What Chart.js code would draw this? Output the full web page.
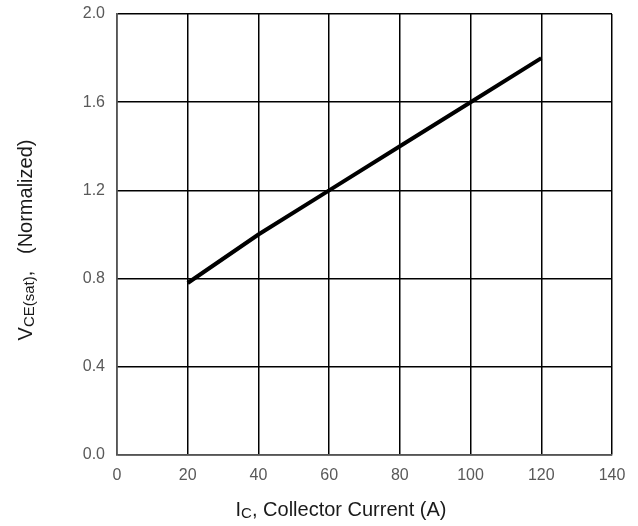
<!DOCTYPE html>
<html>
<head>
<meta charset="utf-8">
<script src="https://cdn.jsdelivr.net/npm/chart.js@4.4.1/dist/chart.umd.min.js"></script>
<style>
    html, body { margin: 0; padding: 0; background: #fff; }
    #wrap { width: 638px; height: 526px; }
</style>
</head>
<body>
<div id="wrap"><canvas id="chart" width="638" height="526"></canvas></div>
<script>
const currentA = [20, 40, 60, 80, 100, 120];
const vceNorm = [0.78, 1.0, 1.2, 1.4, 1.6, 1.8];

const xMin = 0, xMax = 140, xStep = 20;
const yMin = 0, yMax = 2.0, yStep = 0.4;

const fontFamily = "'Liberation Sans', Arial, sans-serif";

// draws text pieces with subscripts, horizontally or rotated
const drawRichText = (ctx, parts, x, y, rotate) => {
    ctx.save();
    ctx.translate(x, y);
    if (rotate) ctx.rotate(-Math.PI / 2);
    const measure = (p) => {
        ctx.font = (p.sub ? "15px " : "20px ") + fontFamily;
        return ctx.measureText(p.text).width;
    };
    const total = parts.reduce((s, p) => s + measure(p), 0);
    let cx = -total / 2;
    ctx.fillStyle = "#1a1a1a";
    ctx.textBaseline = "alphabetic";
    ctx.textAlign = "left";
    parts.forEach((p) => {
        const w = measure(p);
        ctx.fillText(p.text, cx, p.sub ? 9 : 7);
        cx += w;
    });
    ctx.restore();
};

const axisTitles = {
    id: "axisTitles",
    afterDraw(chart) {
        const ctx = chart.ctx;
        drawRichText(ctx, [
            { text: "I" },
            { text: "C", sub: true },
            { text: ", Collector Current (A)" },
        ], 341, 509, false);
        drawRichText(ctx, [
            { text: "V" },
            { text: "CE(sat)", sub: true },
            { text: ",   (Normalized)" },
        ], 25, 240, true);
    },
};

const noOverflow = (scale) => {
    scale.paddingTop = 0;
    scale.paddingBottom = 0;
    scale.paddingLeft = 0;
    scale.paddingRight = 0;
};

new Chart(document.getElementById("chart"), {
    type: "line",
    data: {
        datasets: [{
            data: currentA.map((x, i) => ({ x: x, y: vceNorm[i] })),
            borderColor: "#000",
            borderWidth: 4,
            pointRadius: 0,
            tension: 0,
        }],
    },
    options: {
        responsive: false,
        animation: false,
        layout: { padding: { top: 14, right: 26, left: 0, bottom: 0 } },
        plugins: {
            legend: { display: false },
            tooltip: { enabled: false },
        },
        scales: {
            x: {
                type: "linear",
                min: xMin,
                max: xMax,
                afterFit: (scale) => { scale.height = 71; noOverflow(scale); },
                ticks: {
                    stepSize: xStep,
                    padding: 11,
                    color: "#595959",
                    font: { size: 16, family: fontFamily },
                },
                grid: { color: "#000", lineWidth: 1.5, drawTicks: false },
                border: { color: "#555", width: 1.5 },
            },
            y: {
                min: yMin,
                max: yMax,
                afterFit: (scale) => { scale.width = 117; noOverflow(scale); },
                ticks: {
                    stepSize: yStep,
                    padding: 12,
                    color: "#595959",
                    font: { size: 16, family: fontFamily },
                    callback: (v) => v.toFixed(1),
                },
                grid: { color: "#000", lineWidth: 1.5, drawTicks: false },
                border: { color: "#555", width: 1.5 },
            },
        },
    },
    plugins: [axisTitles],
});
</script>
</body>
</html>
